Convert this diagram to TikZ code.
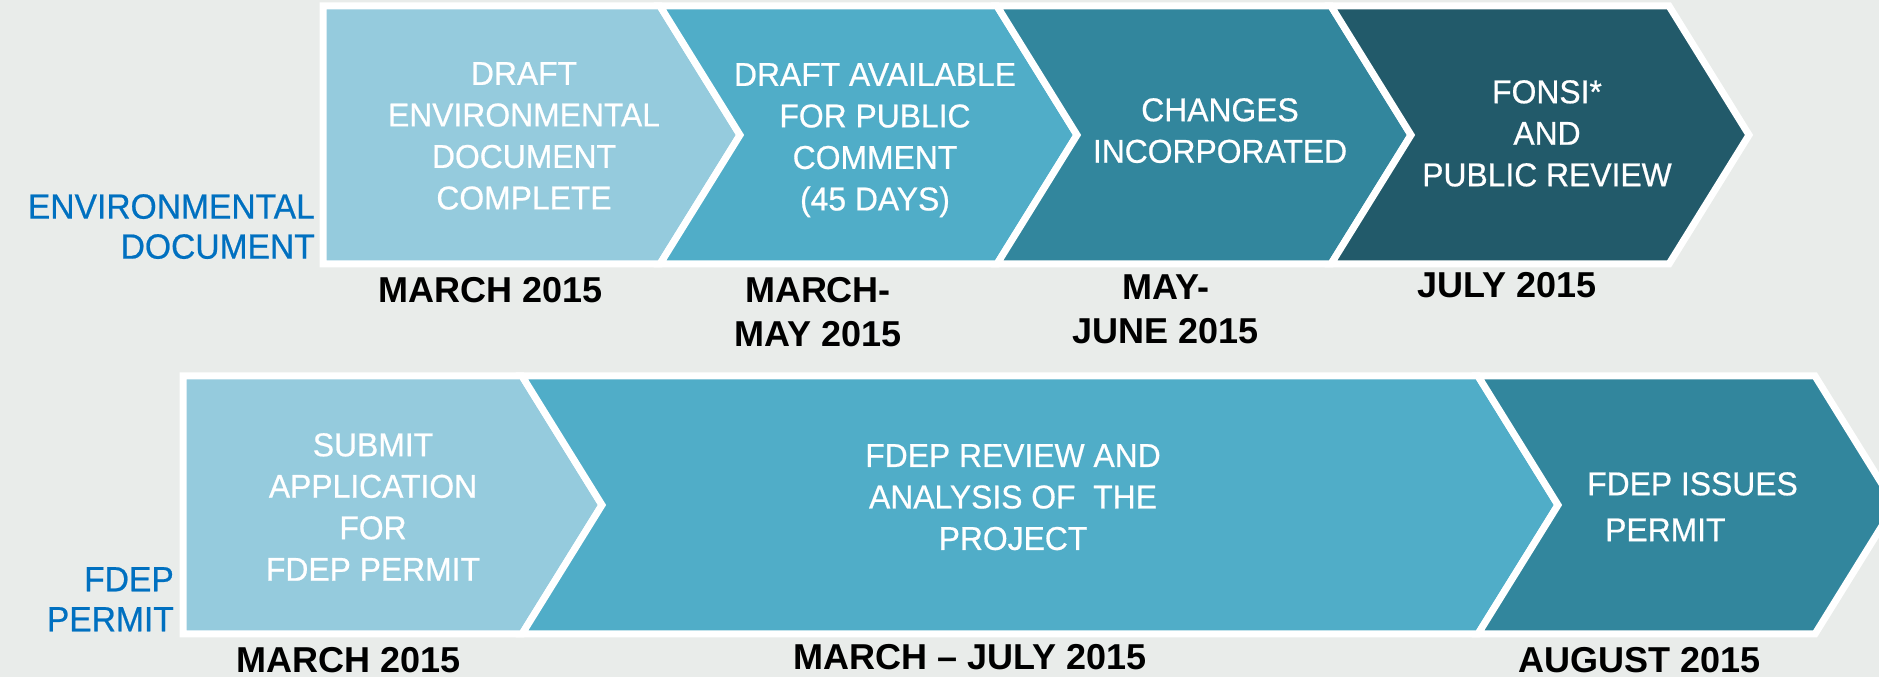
\documentclass[tikz,border=0pt]{standalone}
\usepackage{fontspec}
\setmainfont{Liberation Sans}
\newfontfamily\stagefont{Liberation Sans}[FakeStretch=0.965, FakeBold=0.6]
\newfontfamily\trackfont{Liberation Sans}[FakeStretch=0.96, FakeBold=0.6]
\usepackage{tikz}
\usetikzlibrary{positioning}
\definecolor{bgpage}{HTML}{E9ECEA}
\definecolor{stageA}{HTML}{95CBDD}
\definecolor{stageB}{HTML}{50ADC8}
\definecolor{stageC}{HTML}{32869D}
\definecolor{stageD}{HTML}{225A6A}
\definecolor{tracklabel}{HTML}{0070C0}

\begin{document}
\begin{tikzpicture}[x=1pt, y=1pt,
  stage/.style={draw=white, line width=7pt, line join=miter},
  steptext/.style={anchor=north, inner sep=0pt, align=center, text=white,
                   font=\stagefont\fontsize{33}{41.5}\selectfont},
  datetext/.style={anchor=north, inner sep=0pt, align=center, text=black,
                   font=\bfseries\fontsize{36}{44}\selectfont},
  track/.style={anchor=north east, inner sep=0pt, align=right, text=tracklabel,
                font=\trackfont\fontsize{35}{40}\selectfont}]
  \fill[bgpage] (0,0) rectangle (1879,677);
  \useasboundingbox (0,0) rectangle (1879,677);

  % environmental document track
  \draw[stage, fill=stageA] (323,671) -- (660,671) -- (740,542) -- (660,413) -- (323,413) -- cycle;
  \draw[stage, fill=stageB] (660,671) -- (997,671) -- (1077,542) -- (997,413) -- (660,413) -- (740,542) -- cycle;
  \draw[stage, fill=stageC] (997,671) -- (1331,671) -- (1411,542) -- (1331,413) -- (997,413) -- (1077,542) -- cycle;
  \draw[stage, fill=stageD] (1331,671) -- (1669,671) -- (1749,542) -- (1669,413) -- (1331,413) -- (1411,542) -- cycle;

  % permit track
  \draw[stage, fill=stageA] (183,301) -- (522,301) -- (602,172) -- (522,43) -- (183,43) -- cycle;
  \draw[stage, fill=stageB] (522,301) -- (1478,301) -- (1558,172) -- (1478,43) -- (522,43) -- (602,172) -- cycle;
  \draw[stage, fill=stageC] (1478,301) -- (1815,301) -- (1895,172) -- (1815,43) -- (1478,43) -- (1558,172) -- cycle;

  \node[track] (envdoc) at (315,483) {ENVIRONMENTAL\\DOCUMENT};
  \node[track] (fdep) at (174,110) {FDEP\\PERMIT};

  \node[steptext] (draft) at (524,615) {DRAFT\\ENVIRONMENTAL\\DOCUMENT\\COMPLETE};
  \node[steptext] (comment) at (875,614) {DRAFT AVAILABLE\\FOR PUBLIC\\COMMENT\\(45 DAYS)};
  \node[steptext] (changes) at (1220,579) {CHANGES\\INCORPORATED};
  \node[steptext] (fonsi) at (1547,597) {FONSI*\\AND\\PUBLIC REVIEW};

  \node[steptext] (submit) at (373,244) {SUBMIT\\APPLICATION\\FOR\\FDEP PERMIT};
  \node[steptext] (review) at (1013,233) {FDEP REVIEW AND\\ANALYSIS OF\ \ THE\\PROJECT};
  \node[steptext, anchor=north west, align=left] (issues) at (1587,205)
    {FDEP ISSUES\\[4.5pt]\hspace*{18pt}PERMIT};

  \node[datetext] (d1) at (491,400) {MARCH 2015};
  \node[datetext] (d2) at (818,400) {MARCH-\\MAY 2015};
  \node[datetext] (d3) at (1166,402) {MAY-\\JUNE 2015};
  \node[datetext] (d4) at (1507,405) {JULY 2015};
  \node[datetext] (d5) at (349,30) {MARCH 2015};
  \node[datetext] (d6) at (970,33) {MARCH – JULY 2015};
  \node[datetext] (d7) at (1640,30) {AUGUST 2015};
\end{tikzpicture}
\end{document}
